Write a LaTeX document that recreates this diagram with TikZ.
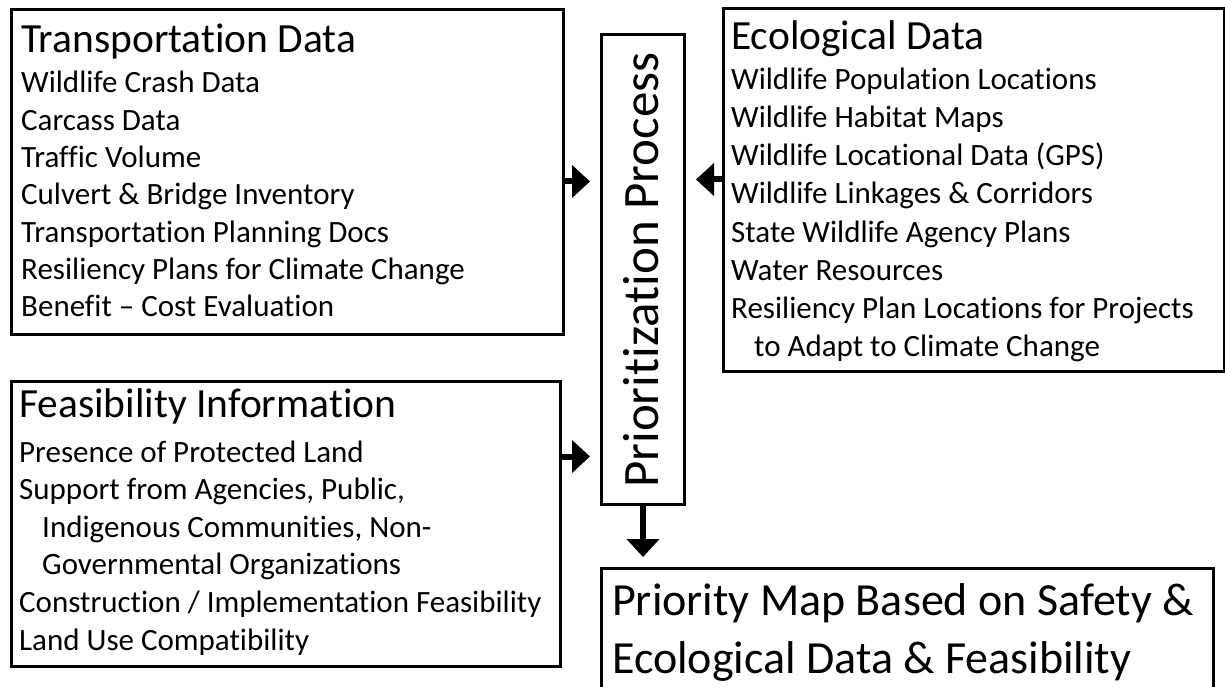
\documentclass[tikz,border=0pt]{standalone}
\usepackage{fontspec}
\setmainfont{Carlito}[Ligatures={TeX,NoCommon}]
\usetikzlibrary{arrows.meta,positioning}

\begin{document}
\begin{tikzpicture}[x=1pt,y=-1pt]
	\tikzset{
		box/.style={draw=black, line width=3pt, inner sep=0pt, anchor=north west},
		heading/.style={anchor=base west, inner sep=0pt, font=\fontsize{41.5}{48}\selectfont},
		entry/.style={anchor=base west, inner sep=0pt, font=\fontsize{31}{37}\selectfont},
		bigtext/.style={anchor=base west, inner sep=0pt, font=\fontsize{46}{56}\selectfont},
		flow/.style={line width=6pt, -{Triangle[length=18pt,width=32pt]}, shorten >=10pt}
	}
	\useasboundingbox (0,0) rectangle (1225,687);
	\clip (0,0) rectangle (1225,687);
	% boxes
	\node [box, minimum width=552pt, minimum height=325pt] (trans) at (10,8) {};
	\node [box, minimum width=501pt, minimum height=363pt] (eco) at (722,7) {};
	\node [box, minimum width=83pt, minimum height=470pt] (prio) at (600,33) {};
	\node [box, minimum width=549pt, minimum height=285pt] (feas) at (10,380) {};
	\node [box, minimum width=612pt, minimum height=160pt] (map) at (600,567) {};
	% transportation data
	\node [heading] (trans-title) at (21,53) {Transportation Data};
	\foreach \t [count=\i] in {Wildlife Crash Data, Carcass Data, Traffic Volume,
		Culvert \& Bridge Inventory, Transportation Planning Docs,
		Resiliency Plans for Climate Change, Benefit – Cost Evaluation}
		\node [entry] (trans-\i) at (21,55.7+37.3*\i) {\t};
	% ecological data
	\node [heading] (eco-title) at (731,50) {Ecological Data};
	\foreach \t [count=\i] in {Wildlife Population Locations, Wildlife Habitat Maps,
		Wildlife Locational Data (GPS), Wildlife Linkages \& Corridors,
		State Wildlife Agency Plans, Water Resources,
		Resiliency Plan Locations for Projects, \hspace*{23pt}to Adapt to Climate Change}
		\node [entry] (eco-\i) at (731,52+38*\i) {\t};
	% feasibility information
	\node [heading] (feas-title) at (19,417) {Feasibility Information};
	\foreach \t [count=\i] in {Presence of Protected Land, {Support from Agencies, Public,},
		{\hspace*{23pt}Indigenous Communities, Non-}, \hspace*{23pt}Governmental Organizations,
		Construction / Implementation Feasibility, Land Use Compatibility}
		\node [entry] (feas-\i) at (19,424.4+37.6*\i) {\t};
	% process and result
	\node [bigtext, font=\fontsize{51}{60}\selectfont, rotate=90] (prio-text) at (658,488) {Prioritization Process};
	\node [bigtext] (map-1) at (612,615) {Priority Map Based on Safety \&};
	\node [bigtext] (map-2) at (612,673) {Ecological Data \& Feasibility};
	% arrows
	\draw [flow] ([yshift=-9.5pt]trans.east) -- ([yshift=-9.5pt]trans.east -| prio.west);
	\draw [flow] ([yshift=10.5pt]eco.west) -- ([yshift=10.5pt]eco.west -| prio.east);
	\draw [flow] ([yshift=67.5pt]feas.east) -- ([yshift=67.5pt]feas.east -| prio.west);
	\draw [flow] (prio.south) -- (prio.south |- map.north);
\end{tikzpicture}
\end{document}
